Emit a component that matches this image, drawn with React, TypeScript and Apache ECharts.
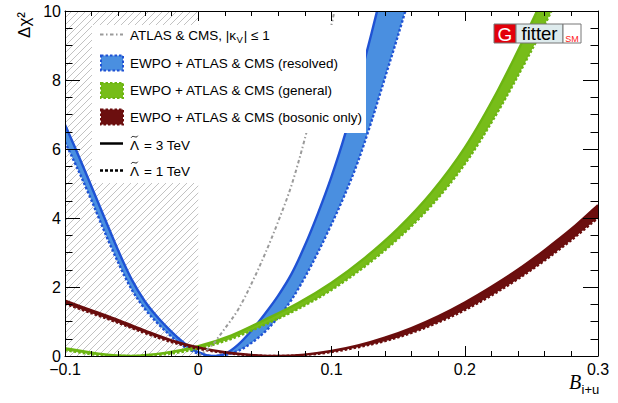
import React, { useEffect, useRef } from "react";
import * as echarts from "echarts";

// ---- axis ticks ----
const xTicks = [-0.1, 0, 0.1, 0.2, 0.3];
const yTicks = [0, 2, 4, 6, 8, 10];
// hatched (excluded) region in B
const excludedB = [-0.1, 0];

// ---- ATLAS & CMS, |kV| <= 1 (grey dash-dot) ----
const atlasCms: number[][] = [
  [0, 0], [0.01, 0.3], [0.02, 0.8], [0.03, 1.35], [0.04, 2.1], [0.05, 2.95],
  [0.06, 3.9], [0.07, 4.95], [0.08, 6.3], [0.09, 7.85], [0.1, 9.6], [0.105, 10.5],
];

// ---- EWPO + ATLAS & CMS (resolved), blue ----
const resolved3TeV: number[][] = [
  [-0.1, 6.7], [-0.09, 5.82], [-0.08, 4.9], [-0.07, 3.97], [-0.06, 3.05], [-0.05, 2.22],
  [-0.04, 1.58], [-0.03, 1.1], [-0.02, 0.7], [-0.01, 0.36], [0, 0.11], [0.01, 0.0],
  [0.02, 0.06], [0.03, 0.33], [0.04, 0.74], [0.05, 1.22], [0.06, 1.75], [0.07, 2.38],
  [0.08, 3.2], [0.09, 4.15], [0.1, 5.2], [0.11, 6.4], [0.12, 7.85], [0.13, 9.35], [0.14, 10.9],
];
const resolved1TeV: number[][] = [
  [-0.1, 6.2], [-0.09, 5.38], [-0.08, 4.5], [-0.07, 3.57], [-0.06, 2.7], [-0.05, 1.93],
  [-0.04, 1.36], [-0.03, 0.93], [-0.02, 0.56], [-0.01, 0.26], [0, 0.07], [0.01, 0.0],
  [0.02, 0.03], [0.03, 0.15], [0.04, 0.38], [0.05, 0.7], [0.06, 1.12], [0.07, 1.63],
  [0.08, 2.28], [0.09, 3.02], [0.1, 3.82], [0.11, 4.68], [0.12, 5.65], [0.13, 6.8],
  [0.14, 8.05], [0.15, 9.3], [0.16, 10.6],
];

// ---- EWPO + ATLAS & CMS (general), green ----
const general3TeV: number[][] = [
  [-0.1, 0.23], [-0.075, 0.07], [-0.05, 0.005], [-0.025, 0.09], [0, 0.285], [0.025, 0.6],
  [0.05, 1.05], [0.075, 1.535], [0.1, 2.125], [0.125, 2.845], [0.15, 3.7], [0.175, 4.74],
  [0.2, 6.04], [0.225, 7.71], [0.25, 9.65], [0.27, 11.33],
];
const general1TeV: number[][] = [
  [-0.1, 0.17], [-0.075, 0.03], [-0.05, 0.0], [-0.025, 0.05], [0, 0.215], [0.025, 0.5],
  [0.05, 0.91], [0.075, 1.365], [0.1, 1.915], [0.125, 2.595], [0.15, 3.4], [0.175, 4.36],
  [0.2, 5.56], [0.225, 7.09], [0.25, 8.85], [0.27, 10.38],
];

// ---- EWPO + ATLAS & CMS (bosonic only), dark red ----
const bosonic3TeV: number[][] = [
  [-0.1, 1.605], [-0.08, 1.32], [-0.06, 1.04], [-0.04, 0.735], [-0.02, 0.455], [0, 0.25],
  [0.02, 0.11], [0.04, 0.03], [0.06, 0.0], [0.08, 0.04], [0.1, 0.145], [0.12, 0.305],
  [0.14, 0.53], [0.16, 0.81], [0.18, 1.15], [0.2, 1.55], [0.22, 2.005], [0.24, 2.505],
  [0.26, 3.07], [0.28, 3.68], [0.3, 4.375],
];
const bosonic1TeV: number[][] = [
  [-0.1, 1.515], [-0.08, 1.24], [-0.06, 0.96], [-0.04, 0.665], [-0.02, 0.405], [0, 0.21],
  [0.02, 0.09], [0.04, 0.02], [0.06, 0.0], [0.08, 0.03], [0.1, 0.115], [0.12, 0.255],
  [0.14, 0.43], [0.16, 0.67], [0.18, 0.97], [0.2, 1.33], [0.22, 1.755], [0.24, 2.235],
  [0.26, 2.77], [0.28, 3.36], [0.3, 4.005],
];

const FONT = '"Liberation Sans", Arial, Helvetica, sans-serif';
const BLUE_FILL = "#4a8fe0";
const BLUE_EDGE = "#1f52d4";
const GREEN_FILL = "#77bd19";
const GREEN_EDGE = "#6cb512";
const RED_FILL = "#6c0f0f";
const RED_EDGE = "#6a0d0d";
const GREY = "#9a9a9a";
const GREY_DASH = [3.5, 2.5, 1.5, 2.5];
const EDGE_DASH = [2.5, 2];

function smoothPath(pts: number[][], cmd: string): string {
  const n = pts.length;
  const f = (v: number) => v.toFixed(2);
  let d = `${cmd} ${f(pts[0][0])} ${f(pts[0][1])}`;
  for (let i = 0; i < n - 1; i++) {
    const p0 = pts[Math.max(i - 1, 0)];
    const p1 = pts[i];
    const p2 = pts[i + 1];
    const p3 = pts[Math.min(i + 2, n - 1)];
    const c1x = p1[0] + (p2[0] - p0[0]) / 6;
    const c1y = p1[1] + (p2[1] - p0[1]) / 6;
    const c2x = p2[0] - (p3[0] - p1[0]) / 6;
    const c2y = p2[1] - (p3[1] - p1[1]) / 6;
    d += ` C ${f(c1x)} ${f(c1y)} ${f(c2x)} ${f(c2y)} ${f(p2[0])} ${f(p2[1])}`;
  }
  return d;
}

function bandSeries(name: string, solid: number[][], dashed: number[][], fill: string, edge: string, z: number) {
  return {
    type: "custom",
    name,
    coordinateSystem: "cartesian2d",
    clip: true,
    silent: true,
    z,
    data: [[solid[0][0], solid[0][1]]],
    renderItem: (_p: any, api: any) => {
      const s = solid.map((p) => api.coord(p));
      const d = dashed.map((p) => api.coord(p));
      const fillPath = smoothPath(s, "M") + " " + smoothPath(d.slice().reverse(), "L") + " Z";
      return {
        type: "group",
        children: [
          { type: "path", shape: { pathData: fillPath }, style: { fill, stroke: "none" } },
          {
            type: "path",
            shape: { pathData: smoothPath(d, "M") },
            style: { fill: "none", stroke: edge, lineWidth: 2.4, lineDash: EDGE_DASH },
          },
          {
            type: "path",
            shape: { pathData: smoothPath(s, "M") },
            style: { fill: "none", stroke: edge, lineWidth: 2.4 },
          },
        ],
      };
    },
  };
}

function measure(text: string, font: string): number {
  const ctx = document.createElement("canvas").getContext("2d");
  if (!ctx) return text.length * 7;
  ctx.font = font;
  return ctx.measureText(text).width;
}

export default function App() {
  const ref = useRef<HTMLDivElement>(null);

  useEffect(() => {
    if (!ref.current) return;
    const chart = echarts.init(ref.current, undefined, { renderer: "svg" });
    const xMin = xTicks[0];
    const xMax = xTicks[xTicks.length - 1];
    const xInt = xTicks[1] - xTicks[0];
    const yMin = yTicks[0];
    const yMax = yTicks[yTicks.length - 1];
    const yInt = yTicks[1] - yTicks[0];

    const axisLine = { show: true, onZero: false, lineStyle: { color: "#000", width: 1 } };
    const xTickFmt = (v: number) => {
      if (Math.abs(v) < 1e-9) return "0";
      return (v < 0 ? "\u2212" : "") + Math.abs(v).toFixed(1);
    };
    const xAxisBase = {
      type: "value",
      min: xMin,
      max: xMax,
      interval: xInt,
      gridIndex: 0,
      z: 10,
      axisLine,
      splitLine: { show: false },
      axisTick: { show: true, inside: true, length: 10, lineStyle: { color: "#000", width: 1 } },
      minorTick: { show: true, splitNumber: 5, length: 5, lineStyle: { color: "#000", width: 1 } },
      minorSplitLine: { show: false },
    };
    const yAxisBase = {
      type: "value",
      min: yMin,
      max: yMax,
      interval: yInt,
      gridIndex: 0,
      z: 10,
      axisLine,
      splitLine: { show: false },
      axisTick: { show: true, inside: true, length: 15, lineStyle: { color: "#000", width: 1 } },
      minorTick: { show: true, splitNumber: 4, length: 7.5, lineStyle: { color: "#000", width: 1 } },
      minorSplitLine: { show: false },
    };

    const LFONT = 13.5;
    const lfont = `${LFONT}px "Liberation Sans"`;
    const row1a = "ATLAS & CMS, |\u03ba";
    const row1aW = measure(row1a, lfont);
    const row1bW = measure("V", `9.5px "Liberation Sans"`);
    const lambdaW = measure("\u039b", lfont);

    const legendText = (x: number, y: number, text: string, size = LFONT) => ({
      type: "text",
      x,
      y,
      z: 60,
      style: { text, fontSize: size, fontFamily: FONT, fill: "#000", align: "left", verticalAlign: "middle" },
    });
    const bandIcon = (y: number, fill: string, edge: string) => ({
      type: "rect",
      z: 60,
      shape: { x: 101, y: y - 7.5, width: 22, height: 15 },
      style: { fill, stroke: edge, lineWidth: 2, lineDash: EDGE_DASH },
    });
    const lambdaLabel = (y: number, rest: string) => {
      const cx = 130 + lambdaW / 2;
      const cy = y - 8.3;
      return [
        legendText(130, y, "\u039b"),
        {
          type: "bezierCurve",
          z: 60,
          shape: {
            x1: cx - 3.3, y1: cy + 1,
            cpx1: cx - 1.6, cpy1: cy - 2.4,
            cpx2: cx + 1.6, cpy2: cy + 2.4,
            x2: cx + 3.3, y2: cy - 1,
          },
          style: { stroke: "#000", lineWidth: 0.9, fill: "none" },
        },
        legendText(130 + lambdaW + 5, y, rest),
      ];
    };

    const option: any = {
      animation: false,
      backgroundColor: "#fff",
      grid: { left: 65, top: 11, right: 20, bottom: 47, containLabel: false, outerBoundsMode: "none" },
      xAxis: [
        {
          ...xAxisBase,
          position: "bottom",
          axisLabel: {
            show: true,
            fontSize: 16,
            lineHeight: 12,
            color: "#000",
            fontFamily: FONT,
            margin: 7,
            formatter: xTickFmt,
          },
        },
        { ...xAxisBase, position: "top", axisLabel: { show: false } },
      ],
      yAxis: [
        {
          ...yAxisBase,
          position: "left",
          axisLabel: { show: true, fontSize: 16, lineHeight: 12, color: "#000", fontFamily: FONT, margin: 4 },
        },
        { ...yAxisBase, position: "right", axisLabel: { show: false } },
      ],
      series: [
        {
          type: "custom",
          name: "excluded",
          coordinateSystem: "cartesian2d",
          clip: true,
          silent: true,
          z: 1,
          data: [[excludedB[0], yMin]],
          renderItem: (_p: any, api: any) => {
            const tl = api.coord([excludedB[0], yMax]);
            const br = api.coord([excludedB[1], yMin]);
            const L = tl[0], T = tl[1], R = br[0], B = br[1];
            const children: any[] = [];
            for (let c = L + T; c < R + B; c += 7) {
              const xs = Math.max(L, c - B);
              const xe = Math.min(R, c - T);
              if (xe > xs) {
                children.push({
                  type: "line",
                  shape: { x1: xs, y1: c - xs, x2: xe, y2: c - xe },
                  style: { stroke: "#c2c2c2", lineWidth: 1 },
                });
              }
            }
            return { type: "group", children };
          },
        },
        bandSeries("resolved", resolved3TeV, resolved1TeV, BLUE_FILL, BLUE_EDGE, 2),
        bandSeries("general", general3TeV, general1TeV, GREEN_FILL, GREEN_EDGE, 3),
        bandSeries("bosonic", bosonic3TeV, bosonic1TeV, RED_FILL, RED_EDGE, 4),
        {
          type: "custom",
          name: "ATLAS & CMS",
          coordinateSystem: "cartesian2d",
          clip: true,
          silent: true,
          z: 5,
          data: [[atlasCms[0][0], atlasCms[0][1]]],
          renderItem: (_p: any, api: any) => {
            const pts = atlasCms.map((p) => api.coord(p));
            return {
              type: "path",
              shape: { pathData: smoothPath(pts, "M") },
              style: { fill: "none", stroke: GREY, lineWidth: 2, lineDash: GREY_DASH },
            };
          },
        },
      ],
      graphic: [
        // axis titles
        {
          type: "text",
          x: 24,
          y: 25,
          rotation: Math.PI / 2,
          style: { text: "\u0394\u03c7\u00b2", fontSize: 17, fontFamily: FONT, fill: "#000", align: "center", verticalAlign: "middle" },
        },
        {
          type: "text",
          x: 575,
          y: 382,
          style: {
            text: "B",
            fontSize: 20,
            fontStyle: "italic",
            fontFamily: '"Liberation Serif", "Times New Roman", serif',
            fill: "#000",
            align: "center",
            verticalAlign: "middle",
          },
        },
        {
          type: "text",
          x: 581.5,
          y: 389,
          style: { text: "i+u", fontSize: 13, fontFamily: FONT, fill: "#000", align: "left", verticalAlign: "middle" },
        },
        // legend boxes
        { type: "rect", z: 50, shape: { x: 92, y: 25, width: 274, height: 108 }, style: { fill: "#fff" } },
        { type: "rect", z: 50, shape: { x: 92, y: 133, width: 120, height: 50 }, style: { fill: "#fff" } },
        {
          type: "line",
          z: 60,
          shape: { x1: 100, y1: 34.5, x2: 123, y2: 34.5 },
          style: { stroke: GREY, lineWidth: 2, lineDash: GREY_DASH },
        },
        legendText(130, 35, row1a),
        legendText(130 + row1aW + 0.5, 39, "V", 9.5),
        legendText(130 + row1aW + row1bW + 1.5, 35, "| \u2264 1"),
        bandIcon(63, BLUE_FILL, BLUE_EDGE),
        legendText(130, 63, "EWPO + ATLAS & CMS (resolved)"),
        bandIcon(90.5, GREEN_FILL, GREEN_EDGE),
        legendText(130, 90, "EWPO + ATLAS & CMS (general)"),
        bandIcon(117, RED_FILL, RED_EDGE),
        legendText(130, 117, "EWPO + ATLAS & CMS (bosonic only)"),
        {
          type: "line",
          z: 60,
          shape: { x1: 100, y1: 143.5, x2: 123, y2: 143.5 },
          style: { stroke: "#000", lineWidth: 2.5 },
        },
        ...lambdaLabel(145, "= 3 TeV"),
        {
          type: "line",
          z: 60,
          shape: { x1: 100, y1: 170.5, x2: 123, y2: 170.5 },
          style: { stroke: "#000", lineWidth: 2.5, lineDash: [3, 2] },
        },
        ...lambdaLabel(171, "= 1 TeV"),
        // Gfitter logo
        { type: "rect", z: 60, shape: { x: 494, y: 24, width: 22, height: 19 }, style: { fill: "#e3000b", stroke: "#777", lineWidth: 1 } },
        { type: "rect", z: 60, shape: { x: 516, y: 24, width: 47, height: 19 }, style: { fill: "#deebed", stroke: "#777", lineWidth: 1 } },
        { type: "rect", z: 60, shape: { x: 563, y: 24, width: 18, height: 19 }, style: { fill: "#fff", stroke: "#777", lineWidth: 1 } },
        {
          type: "text",
          z: 61,
          x: 505,
          y: 34,
          style: { text: "G", fontSize: 19, fontFamily: FONT, fill: "#fff", align: "center", verticalAlign: "middle" },
        },
        {
          type: "text",
          z: 61,
          x: 539.5,
          y: 33.5,
          style: { text: "fitter", fontSize: 18.5, fontFamily: FONT, fill: "#000", align: "center", verticalAlign: "middle" },
        },
        {
          type: "text",
          z: 61,
          x: 572,
          y: 38.5,
          style: { text: "SM", fontSize: 9, fontFamily: FONT, fill: "#ff2020", align: "center", verticalAlign: "middle" },
        },
      ],
    };
    chart.setOption(option);
    return () => chart.dispose();
  }, []);

  return (
    <div
      ref={ref}
      style={{ position: "fixed", left: 0, top: 0, width: 618, height: 403, background: "#fff" }}
    />
  );
}
